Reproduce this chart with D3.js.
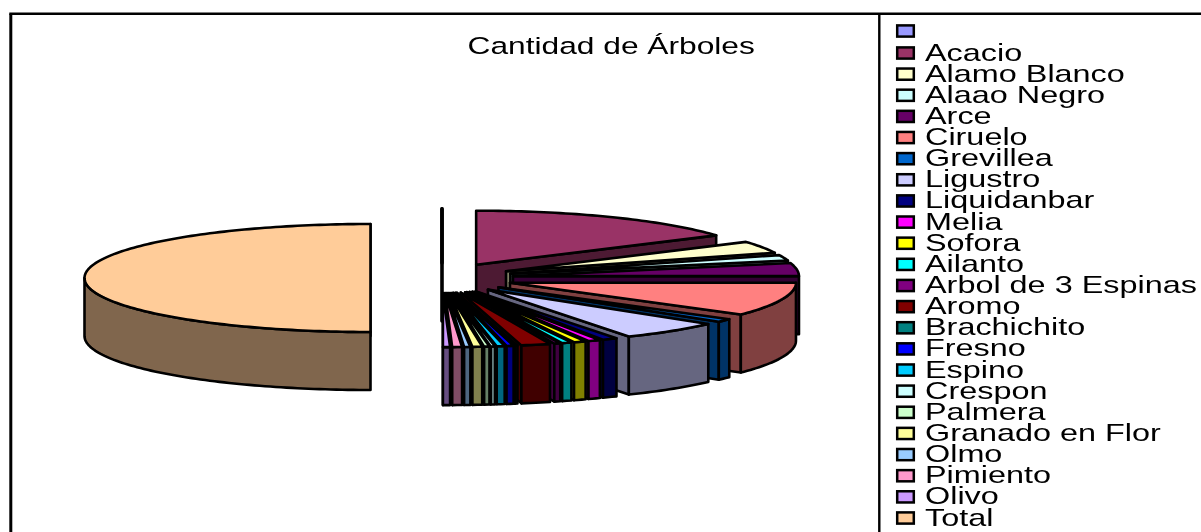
<!DOCTYPE html>
<html>
<head>
<meta charset="utf-8">
<title>Cantidad de Árboles</title>
<style>
html, body { margin: 0; padding: 0; background: #fff; overflow: hidden; }
svg { display: block; filter: blur(0.35px); }
text { font-family: "Liberation Sans", Arial, sans-serif; fill: #000; }
</style>
</head>
<body>
<script src="https://cdn.jsdelivr.net/npm/d3@7"></script>
<script>
var chartTitle = "Cantidad de Árboles";
var categories = ["", "Acacio", "Alamo Blanco", "Alaao Negro", "Arce", "Ciruelo", "Grevillea", "Ligustro",
	"Liquidanbar", "Melia", "Sofora", "Ailanto", "Arbol de 3 Espinas", "Aromo", "Brachichito", "Fresno",
	"Espino", "Crespon", "Palmera", "Granado en Flor", "Olmo", "Pimiento", "Olivo", "Total"];
var values = [0, 317, 72, 33, 78, 201, 19, 116, 17, 14, 14, 11, 7, 33, 3, 8, 9, 5, 6, 11, 7, 11, 8, 1000];
var palette = ["#9999FF", "#993366", "#FFFFCC", "#CCFFFF", "#660066", "#FF8080", "#0066CC", "#CCCCFF",
	"#000080", "#FF00FF", "#FFFF00", "#00FFFF", "#800080", "#800000", "#008080", "#0000FF",
	"#00CCFF", "#CCFFFF", "#CCFFCC", "#FFFF99", "#99CCFF", "#FF99CC", "#CC99FF", "#FFCC99"];

var width = 1201, height = 532;
var cx = 442, cy = 278, rx = 286, ry = 54, depth = 58;
var explodeX = 0.25, explodeY = 0.28;

var svg = d3.select("body").append("svg")
	.attr("width", width)
	.attr("height", height);

// frame, runs off the page on the right and bottom
svg.append("path")
	.attr("d", "M10.8,540V13.7")
	.attr("fill", "none")
	.attr("stroke", "#000")
	.attr("stroke-width", 3);
svg.append("path")
	.attr("d", "M9.3,13.7H1210M879.3,13.7V540")
	.attr("fill", "none")
	.attr("stroke", "#000")
	.attr("stroke-width", 2.4);

// title and legend text are stretched sideways in the original
svg.append("text")
	.attr("transform", "translate(467.5,54) scale(1.35,1)")
	.attr("font-size", 23.5)
	.text(chartTitle);

// unit circle -> page
var sx = d3.scaleLinear().domain([-1, 1]).range([cx - rx, cx + rx]);
var sy = d3.scaleLinear().domain([-1, 1]).range([cy - ry, cy + ry]);
var color = d3.scaleOrdinal().domain(categories.map(function(d, i) { return i; })).range(palette);
var line = d3.line().x(function(d) { return sx(d[0]); }).y(function(d) { return sy(d[1]) + (d[2] || 0); });

var slices = d3.pie().sort(null).startAngle(0).endAngle(2 * Math.PI)(values);
slices.sort(function(a, b) { return a.index - b.index; });

function arcPoints(a0, a1, ox, oy, drop) {
	var n = Math.max(1, Math.ceil(Math.abs(a1 - a0) / 0.02));
	return d3.range(n + 1).map(function(k) {
		var a = a0 + (a1 - a0) * k / n;
		return [ox + Math.sin(a), oy - Math.cos(a), drop];
	});
}

var g = svg.selectAll("g.slice")
	.data(slices)
	.enter()
	.append("g")
	.attr("class", "slice")
	.attr("stroke", "#000")
	.attr("stroke-width", function(d) { return d.value == 0 ? 3.6 : 2.6; })
	.attr("stroke-linejoin", "round");

g.each(function(d, i) {
	var node = d3.select(this);
	var mid = (d.startAngle + d.endAngle) / 2;
	var ox = explodeX * Math.sin(mid), oy = -explodeY * Math.cos(mid);
	var base = d3.rgb(color(i));
	var dark = d3.rgb(base.r / 2, base.g / 2, base.b / 2);

	// cut face at the end of the slice
	if (Math.sin(d.endAngle) > -0.001) {
		var e = [ox + Math.sin(d.endAngle), oy - Math.cos(d.endAngle)];
		node.append("path")
			.attr("fill", dark)
			.attr("d", line([[ox, oy, 0], [e[0], e[1], 0], [e[0], e[1], depth], [ox, oy, depth]]) + "Z");
	}
	// outer wall, only the part that faces the viewer
	var w0 = Math.max(d.startAngle, Math.PI / 2), w1 = Math.min(d.endAngle, 3 * Math.PI / 2);
	if (w1 > w0) {
		var up = arcPoints(w0, w1, ox, oy, 0);
		var down = arcPoints(w1, w0, ox, oy, depth);
		node.append("path")
			.attr("fill", dark)
			.attr("d", line(up.concat(down)) + "Z");
	}
	// top
	node.append("path")
		.attr("fill", base)
		.attr("d", line([[ox, oy, 0]].concat(arcPoints(d.startAngle, d.endAngle, ox, oy, 0))) + "Z");
});

// legend
var legendY = d3.scaleLinear().domain([1, categories.length - 1]).range([53, 518]);
var legend = svg.selectAll("g.legend")
	.data(categories)
	.enter()
	.append("g")
	.attr("class", "legend")
	.attr("transform", function(d, i) { return "translate(0," + (i == 0 ? 31 : legendY(i)) + ")"; });

legend.append("rect")
	.attr("x", 897.2)
	.attr("y", -5.6)
	.attr("width", 16.6)
	.attr("height", 11.2)
	.attr("fill", function(d, i) { return color(i); })
	.attr("stroke", "#000")
	.attr("stroke-width", 2.5);

legend.append("text")
	.attr("transform", "translate(925,7.5) scale(1.35,1)")
	.attr("font-size", 24)
	.text(function(d) { return d; });
</script>
</body>
</html>
